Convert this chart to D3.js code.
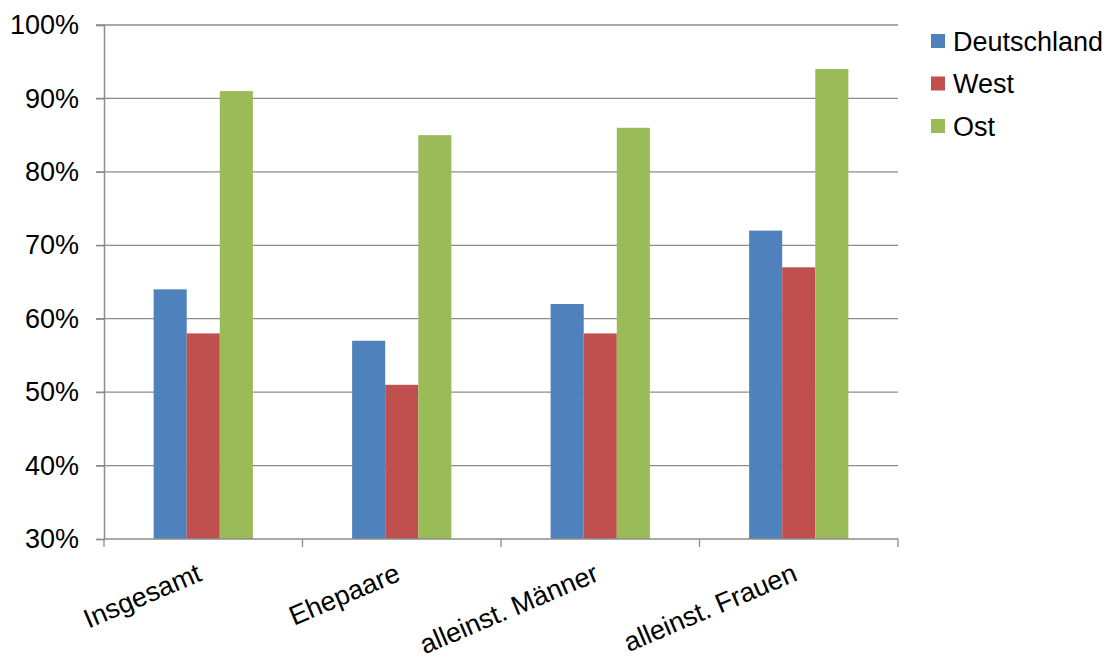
<!DOCTYPE html>
<html><head><meta charset="utf-8">
<script src="https://cdn.jsdelivr.net/npm/d3@7"></script>
<style>body{margin:0;background:#fff}svg{display:block}text{font-family:"Liberation Sans",Arial,sans-serif;fill:#000}</style>
</head><body><svg id="c" width="1112" height="661"></svg>
<script>
const categories = ["Insgesamt","Ehepaare","alleinst. Männer","alleinst. Frauen"];
const seriesNames = ["Deutschland","West","Ost"];
const deutschland = [64,57,62,72];
const west = [58,51,58,67];
const ost = [91,85,86,94];
const yTicks = [30,40,50,60,70,80,90,100];
const colors = ["#4f81bd","#c0504d","#9bbb59"];

const svg = d3.select("#c");
const m = {l:104, r:898, t:25, b:539};
const x = d3.scaleBand().domain(categories).range([m.l, m.r]).paddingInner(0).paddingOuter(0);
const y = d3.scaleLinear().domain([30,100]).range([m.b, m.t]);
const series = [deutschland, west, ost];
const bw = x.bandwidth()/6;
const xs = d3.scaleBand().domain(d3.range(3)).range([0, bw*3]);

// gridlines
svg.append("g").selectAll("line").data(yTicks.slice(1)).join("line")
  .attr("x1", m.l-8).attr("x2", m.r).attr("y1", d=>y(d)).attr("y2", d=>y(d))
  .attr("stroke","#8c8c8c").attr("stroke-width",1.3);

// bars
series.forEach((vals, si) => {
  svg.append("g").selectAll("rect").data(vals).join("rect")
    .attr("x", (d,i)=> x(categories[i]) + x.bandwidth()/2 - bw*1.5 + xs(si))
    .attr("width", bw)
    .attr("y", d=>y(d)).attr("height", d=> y(30)-y(d))
    .attr("fill", colors[si]);
});

// y axis
const yAxis = d3.axisLeft(y).tickValues(yTicks).tickSize(8).tickFormat(d=>d+"%").tickPadding(17);
const gy = svg.append("g").attr("transform",`translate(${m.l},0)`).call(yAxis);
gy.select(".domain").attr("stroke","#8c8c8c").attr("stroke-width",1.5);
gy.selectAll(".tick line").attr("stroke","#8c8c8c").attr("stroke-width",1.3);
gy.selectAll("text").style("font-size","27px").attr("fill","#000").attr("font-family",null);

// x axis
const gx = svg.append("g").attr("transform",`translate(0,${m.b})`);
gx.append("line").attr("x1",m.l).attr("x2",m.r).attr("stroke","#8c8c8c").attr("stroke-width",1.5);
const bounds = categories.map(c=>x(c)).concat([m.r]);
gx.selectAll("line.t").data(bounds).join("line").attr("class","t")
  .attr("x1",d=>d).attr("x2",d=>d).attr("y1",0).attr("y2",8)
  .attr("stroke","#8c8c8c").attr("stroke-width",1.3);
gx.selectAll("text").data(categories).join("text")
  .attr("text-anchor","end")
  .attr("transform", d=>`translate(${x(d)+x.bandwidth()/2},${41}) rotate(-23)`)
  .style("font-size","27px").text(d=>d);

// legend
const lg = svg.append("g").attr("transform","translate(931,34)");
seriesNames.forEach((n,i)=>{
  const g = lg.append("g").attr("transform",`translate(0,${i*42.5})`);
  g.append("rect").attr("width",14).attr("height",14).attr("fill",colors[i]);
  g.append("text").attr("x",22).attr("y",7).attr("dy","0.36em").style("font-size","27px").text(n);
});
</script></body></html>
